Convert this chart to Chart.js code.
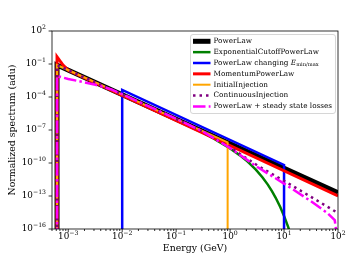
<!DOCTYPE html>
<html>
<head>
<meta charset="utf-8">
<script src="https://cdn.jsdelivr.net/npm/chart.js@4.4.0/dist/chart.umd.min.js"></script>
<style>
  html, body { margin: 0; padding: 0; background: #fff; }
</style>
</head>
<body>
<canvas id="myChart" width="349" height="262"></canvas>
<script>
/* DATA (energy in GeV, spectrum in adu) */
const seriesNames = ['PowerLaw', 'ExponentialCutoffPowerLaw', 'PowerLaw changing E_{min/max}',
  'MomentumPowerLaw', 'InitialInjection', 'ContinuousInjection', 'PowerLaw + steady state losses'];

const powerLawE = [6.2e-4, 6.2e-4, 100];
const powerLawN = [1e-17, 8e-2, 2e-13];

const cutoffE = [6.2e-4, 6.2e-4, 0.1, 0.3, 0.5, 1, 1.5, 2, 3, 4, 5, 6, 7, 8.5, 10, 12, 14];
const cutoffN = [1e-17, 8e-2, 8.9e-7, 6.3e-8, 1.65e-8, 2.1e-9, 5.2e-10, 1.7e-10, 2.5e-11, 4.8e-12,
  1.08e-12, 2.65e-13, 6.9e-14, 1e-14, 1.55e-15, 1.4e-16, 1.35e-17];

const changingE = [0.01, 0.01, 10, 10];
const changingN = [1e-17, 4.4e-4, 6.6e-11, 1e-17];

const momentumE = [6.2e-4, 6.2e-4, 6.6e-4, 7.2e-4, 8e-4, 9e-4, 1e-3, 100];
const momentumN = [1e-17, 0.45, 0.3, 0.16, 0.08, 0.045, 2.7e-2, 1e-13];

const initialE = [6.2e-4, 6.2e-4, 0.9, 0.9];
const initialN = [1e-17, 8e-2, 7.4e-9, 1e-17];

const continuousE = [6.2e-4, 6.2e-4, 0.1, 0.316, 1, 3.16, 10, 31.6, 100];
const continuousN = [1e-17, 8e-2, 1e-6, 6.8e-8, 2.6e-9, 6.3e-11, 2.4e-12, 8.3e-14, 2.8e-15];

const lossesE = [6.2e-4, 6.2e-4, 1e-3, 3.2e-3, 6.3e-3, 0.1, 0.316, 1, 3.16, 10, 31.6, 63, 87, 98];
const lossesN = [1e-17, 8e-3, 4.4e-3, 1.3e-3, 5e-4, 1.07e-6, 7e-8, 2.3e-9, 4.5e-11, 1.35e-12,
  3.3e-14, 2.9e-15, 6.3e-16, 1e-17];

const xTicks = [1e-3, 1e-2, 1e-1, 1e0, 1e1, 1e2];
const xTickLabels = ['10^-3', '10^-2', '10^-1', '10^0', '10^1', '10^2'];
const yTicks = [1e2, 1e-1, 1e-4, 1e-7, 1e-10, 1e-13, 1e-16];
const yTickLabels = ['10^2', '10^-1', '10^-4', '10^-7', '10^-10', '10^-13', '10^-16'];

const seriesE = [powerLawE, cutoffE, changingE, momentumE, initialE, continuousE, lossesE];
const seriesN = [powerLawN, cutoffN, changingN, momentumN, initialN, continuousN, lossesN];

/* styles */
const styles = [
  { color: '#000000', width: 5, dash: [] },
  { color: '#008000', width: 2.5, dash: [] },
  { color: '#0000ff', width: 2.5, dash: [] },
  { color: '#ff0000', width: 3, dash: [] },
  { color: '#ffa500', width: 2, dash: [] },
  { color: '#800080', width: 2.5, dash: [2.5, 4] },
  { color: '#ff00ff', width: 2.5, dash: [12.5, 3.2, 2.5, 3.2] },
];
const serif = '"DejaVu Serif", serif';
const tickFont = '8.8px ' + serif;
const supFont = '6.2px ' + serif;

/* draw "10^x" with a raised exponent */
function drawPow(ctx, label, x, y, align) {
  const parts = label.split('^');
  const exp = parts[1].replace('-', '\u2212');
  ctx.font = tickFont;
  const bw = ctx.measureText(parts[0]).width;
  ctx.font = supFont;
  const ew = ctx.measureText(exp).width;
  const x0 = align === 'right' ? x - bw - ew : x - (bw + ew) / 2;
  ctx.textAlign = 'left';
  ctx.textBaseline = 'middle';
  ctx.font = tickFont;
  ctx.fillText(parts[0], x0, y);
  ctx.font = supFont;
  ctx.fillText(exp, x0 + bw, y - 3.6);
}

/* matplotlib-like spines, ticks and tick labels */
const axesPlugin = {
  id: 'mplAxes',
  afterDatasetsDraw(chart) {
    const { ctx, chartArea: a, scales: { x, y } } = chart;
    ctx.save();
    ctx.strokeStyle = '#000';
    ctx.fillStyle = '#000';
    ctx.lineWidth = 0.8;
    ctx.strokeRect(a.left, a.top, a.right - a.left, a.bottom - a.top);

    ctx.beginPath();
    xTicks.forEach(function(v) {
      const px = x.getPixelForValue(v);
      ctx.moveTo(px, a.bottom); ctx.lineTo(px, a.bottom + 3.4);
    });
    for (let d = -4; d <= 1; d++) {
      for (let k = 2; k <= 9; k++) {
        const v = k * Math.pow(10, d);
        if (v < x.min || v > x.max) continue;
        const px = x.getPixelForValue(v);
        ctx.moveTo(px, a.bottom); ctx.lineTo(px, a.bottom + 2);
      }
    }
    yTicks.forEach(function(v) {
      const py = y.getPixelForValue(v);
      ctx.moveTo(a.left, py); ctx.lineTo(a.left - 3.4, py);
    });
    ctx.stroke();

    xTicks.forEach(function(v, i) {
      drawPow(ctx, xTickLabels[i], x.getPixelForValue(v), a.bottom + 8, 'center');
    });
    yTicks.forEach(function(v, i) {
      drawPow(ctx, yTickLabels[i], a.left - 6, y.getPixelForValue(v), 'right');
    });
    ctx.restore();
  }
};

/* matplotlib-like legend in the upper right */
const legendPlugin = {
  id: 'mplLegend',
  afterDraw(chart) {
    const ctx = chart.ctx;
    const bx = 190.5, by = 34.5, bw = 145, bh = 79, r = 2.5;
    ctx.save();
    ctx.beginPath();
    ctx.moveTo(bx + r, by);
    ctx.arcTo(bx + bw, by, bx + bw, by + bh, r);
    ctx.arcTo(bx + bw, by + bh, bx, by + bh, r);
    ctx.arcTo(bx, by + bh, bx, by, r);
    ctx.arcTo(bx, by, bx + bw, by, r);
    ctx.closePath();
    ctx.fillStyle = 'rgba(255,255,255,0.8)';
    ctx.fill();
    ctx.strokeStyle = '#cccccc';
    ctx.lineWidth = 0.8;
    ctx.stroke();

    chart.data.datasets.forEach(function(ds, i) {
      const ry = by + 6.8 + i * 10.85;
      ctx.beginPath();
      ctx.setLineDash(ds.borderDash);
      ctx.strokeStyle = ds.borderColor;
      ctx.lineWidth = ds.borderWidth;
      ctx.moveTo(193, ry);
      ctx.lineTo(210.5, ry);
      ctx.stroke();
      ctx.setLineDash([]);

      ctx.fillStyle = '#000';
      ctx.textAlign = 'left';
      ctx.textBaseline = 'middle';
      ctx.font = '7.3px ' + serif;
      const parts = ds.label.split('E_{');
      ctx.fillText(parts[0], 213.5, ry);
      if (parts.length > 1) {
        let tx = 213.5 + ctx.measureText(parts[0]).width;
        ctx.font = 'italic 7.3px ' + serif;
        ctx.fillText('E', tx, ry);
        tx += ctx.measureText('E').width;
        ctx.font = '5.2px ' + serif;
        ctx.fillText(parts[1].replace('}', ''), tx, ry + 1.8);
      }
    });
    ctx.restore();
  }
};

const ctx = document.getElementById('myChart').getContext('2d');

const chart = new Chart(ctx, {
  type: 'line',
  data: {
    datasets: seriesNames.map(function(name, i) {
      return {
        label: name,
        data: seriesE[i].map(function(e, j) { return { x: e, y: seriesN[i][j] }; }),
        borderColor: styles[i].color,
        borderWidth: styles[i].width,
        borderDash: styles[i].dash,
        borderJoinStyle: 'miter',
        pointRadius: 0,
        fill: false,
        tension: 0,
        clip: 0,
        order: seriesNames.length - i,
      };
    }),
  },
  options: {
    responsive: false,
    devicePixelRatio: 1,
    animation: false,
    layout: { padding: { top: 31, right: 11, left: 0, bottom: 0 } },
    plugins: { legend: { display: false }, tooltip: { enabled: false } },
    scales: {
      x: {
        type: 'logarithmic',
        min: 5e-4,
        max: 100,
        grid: { display: false },
        border: { display: false },
        ticks: { display: false },
        title: { display: true, text: 'Energy (GeV)', color: '#000',
          font: { family: 'DejaVu Serif', size: 9.4 }, padding: { top: 0, bottom: 8 } },
        afterFit: function(scale) { scale.height = 33; },
      },
      y: {
        type: 'logarithmic',
        min: 1e-16,
        max: 100,
        grid: { display: false },
        border: { display: false },
        ticks: { display: false },
        title: { display: true, text: 'Normalized spectrum (adu)', color: '#000',
          font: { family: 'DejaVu Serif', size: 9.4 }, padding: { top: 7, bottom: 0 } },
        afterFit: function(scale) { scale.width = 52; },
      },
    },
  },
  plugins: [axesPlugin, legendPlugin],
});
</script>
</body>
</html>
